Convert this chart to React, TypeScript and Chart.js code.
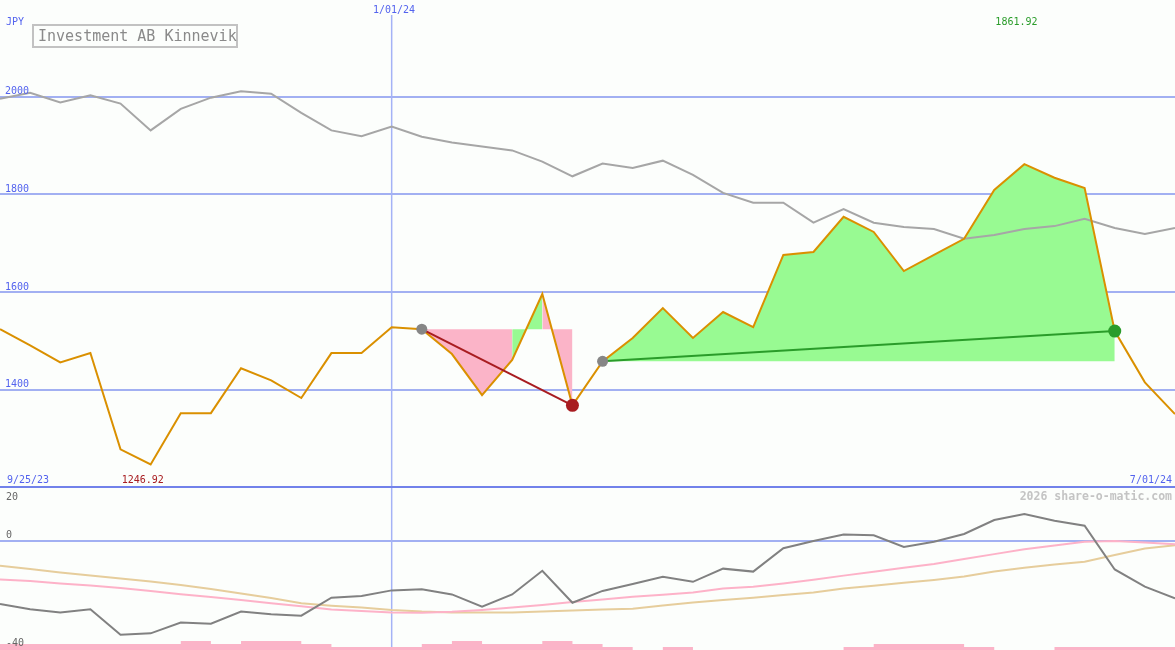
import React, { useEffect, useRef } from "react";
import { Chart, registerables } from "chart.js";

Chart.register(...registerables);

// weekly points, index 0 .. 39 (index 13 = 1/01/24, index 39 = 7/01/24)
const firstDateLabel = "9/25/23";
const midDateLabel = "1/01/24";
const lastDateLabel = "7/01/24";
const midDateIndex = 13;
const currencyLabel = "JPY";
const titleText = "Investment AB Kinnevik";
const creditText = "2026 share-o-matic.com";

const priceValues = [
  1524, 1491, 1456, 1475, 1278, 1246.92, 1352, 1352, 1444, 1419,
  1383, 1475, 1475, 1528, 1524, 1473, 1389, 1461, 1596, 1368,
  1458, 1506, 1567, 1506, 1559, 1528, 1676, 1682, 1754, 1723,
  1643, 1676, 1709, 1809, 1861.92, 1834, 1813, 1520, 1415, 1350,
];
const compareValues = [
  1996, 2008, 1988, 2003, 1986, 1931, 1975, 1998, 2011, 2006,
  1967, 1931, 1919, 1939, 1918, 1906, 1898, 1890, 1867, 1837,
  1863, 1854, 1869, 1840, 1803, 1783, 1783, 1742, 1770, 1742,
  1733, 1729, 1709, 1717, 1729, 1735, 1750, 1731, 1719, 1731,
];
const momentumValues = [
  -23.6, -25.5, -26.7, -25.5, -35.0, -34.5, -30.5, -30.9, -26.4, -27.4,
  -27.9, -21.2, -20.6, -18.5, -18.1, -20.0, -24.6, -20.0, -11.2, -23.1,
  -18.7, -16.1, -13.4, -15.3, -10.4, -11.5, -2.8, -0.1, 2.3, 2.0,
  -2.3, -0.4, 2.5, 7.7, 9.9, 7.4, 5.6, -10.7, -17.1, -21.5,
];
const fastAvgValues = [
  -14.4, -15.0, -15.9, -16.7, -17.6, -18.7, -19.9, -21.0, -22.1, -23.3,
  -24.4, -25.6, -26.2, -26.7, -26.8, -26.5, -25.8, -24.9, -23.9, -22.8,
  -21.9, -20.9, -20.1, -19.3, -17.8, -17.1, -15.9, -14.5, -13.0, -11.6,
  -10.1, -8.7, -6.8, -5.0, -3.2, -1.8, -0.4, -0.1, -0.7, -1.3,
];
const slowAvgValues = [
  -9.3, -10.5, -11.8, -13.0, -14.1, -15.2, -16.5, -18.0, -19.7, -21.3,
  -23.3, -24.2, -24.9, -25.8, -26.4, -26.7, -26.7, -26.7, -26.4, -26.0,
  -25.6, -25.3, -24.1, -23.0, -22.1, -21.2, -20.2, -19.3, -17.8, -16.8,
  -15.7, -14.6, -13.3, -11.5, -10.1, -8.9, -7.8, -5.3, -2.9, -1.7,
];
const volumeLevels = [
  2, 2, 2, 2, 2, 2, 3, 2, 3, 3,
  2, 1, 1, 1, 2, 3, 2, 2, 3, 2,
  1, 0, 1, 0, 0, 0, 0, 0, 1, 2,
  2, 2, 1, 0, 0, 1, 1, 1, 1, 1,
];
const priceTicks = [1400, 1600, 1800, 2000];
const oscTicks = [0];
const oscLabels = [20, 0, -40];
const tradeStarts = [14, 20];
const tradeEnds = [19, 37];

const BG = "#fcfefc";
const GRID = "#a2b0f2";
const BLUE_TXT = "#5363ee";
const PINK = "#fbb4c8";
const GREEN = "#98fa92";
const UP = "#2a9c2a";
const DOWN = "#a81c20";
const MONO = '"DejaVu Sans Mono", "Liberation Mono", monospace';

const W = 1175;
const TOP_H = 488;
const BOT_H = 162;

const pts = (vals: number[], from = 0, to = vals.length - 1) => {
  const out: { x: number; y: number }[] = [];
  for (let i = from; i <= to; i++) out.push({ x: i, y: vals[i] });
  return out;
};

function buildUpperDatasets() {
  const ds: any[] = [];
  tradeStarts.forEach((s, t) => {
    const e = tradeEnds[t];
    const base = priceValues[s];
    // group consecutive intervals with the same colour
    let runStart = s;
    let runGain = priceValues[s + 1] > base;
    for (let k = s + 1; k <= e; k++) {
      const gain = k < e ? priceValues[k + 1] > base : !runGain;
      if (k === e || gain !== runGain) {
        ds.push({
          data: pts(priceValues, runStart, k),
          borderWidth: 0,
          pointRadius: 0,
          backgroundColor: runGain ? GREEN : PINK,
          borderColor: "rgba(0,0,0,0)",
          fill: { value: base },
          order: 20,
        });
        runStart = k;
        runGain = gain;
      }
    }
  });
  ds.push({
    data: pts(compareValues),
    borderColor: "#a6a6a6",
    borderWidth: 2,
    pointRadius: 0,
    fill: false,
    order: 6,
  });
  ds.push({
    data: pts(priceValues),
    borderColor: "#da9000",
    borderWidth: 2,
    pointRadius: 0,
    fill: false,
    order: 5,
  });
  tradeStarts.forEach((s, t) => {
    const e = tradeEnds[t];
    const gain = priceValues[e] > priceValues[s];
    ds.push({
      data: [
        { x: s, y: priceValues[s] },
        { x: e, y: priceValues[e] },
      ],
      borderColor: gain ? UP : DOWN,
      borderWidth: 2,
      pointRadius: 0,
      fill: false,
      order: 3,
    });
    ds.push({
      data: [
        { x: s, y: priceValues[s] },
        { x: e, y: priceValues[e] },
      ],
      showLine: false,
      pointRadius: [5.5, 6.5],
      pointBorderWidth: 0,
      pointBackgroundColor: ["#868686", gain ? UP : DOWN],
      pointBorderColor: "rgba(0,0,0,0)",
      fill: false,
      order: 1,
    });
  });
  return ds;
}

const upperDecor = {
  id: "upperDecor",
  beforeDatasetsDraw(chart: any) {
    const { ctx, chartArea, scales } = chart;
    const px = scales.x.getPixelForValue(midDateIndex);
    ctx.save();
    ctx.strokeStyle = "#a4b2f6";
    ctx.lineWidth = 1.5;
    ctx.beginPath();
    ctx.moveTo(px, 15);
    ctx.lineTo(px, chartArea.bottom);
    ctx.stroke();
    ctx.restore();
  },
  afterDraw(chart: any) {
    const { ctx, scales } = chart;
    const x = scales.x;
    const y = scales.y;
    ctx.save();
    // separator
    ctx.fillStyle = "#7282ea";
    ctx.fillRect(0, 486, W, 2);
    ctx.textBaseline = "alphabetic";
    ctx.font = `10px ${MONO}`;
    ctx.fillStyle = BLUE_TXT;
    ctx.textAlign = "left";
    ctx.fillText(currencyLabel, 6, 25);
    priceTicks.forEach((v) => {
      ctx.fillText(String(v), 5, y.getPixelForValue(v) - 2.5);
    });
    ctx.fillText(midDateLabel, 373, 13);
    ctx.fillText(firstDateLabel, 7, 483);
    ctx.textAlign = "right";
    ctx.fillText(lastDateLabel, 1172, 483);
    // min / max labels
    let minI = 0;
    let maxI = 0;
    priceValues.forEach((v, i) => {
      if (v < priceValues[minI]) minI = i;
      if (v > priceValues[maxI]) maxI = i;
    });
    ctx.textAlign = "left";
    ctx.fillStyle = DOWN;
    ctx.fillText(priceValues[minI].toFixed(2), x.getPixelForValue(minI) - 29, 483);
    ctx.fillStyle = UP;
    ctx.fillText(priceValues[maxI].toFixed(2), x.getPixelForValue(maxI) - 29, 25);
    // title box
    ctx.fillStyle = BG;
    ctx.fillRect(33, 25, 204, 22);
    ctx.strokeStyle = "#c2c2c2";
    ctx.lineWidth = 2;
    ctx.strokeRect(33, 25, 204, 22);
    ctx.fillStyle = "#8a8a8a";
    ctx.font = `15px ${MONO}`;
    ctx.fillText(titleText, 38, 41);
    ctx.restore();
  },
};

const lowerDecor = {
  id: "lowerDecor",
  beforeDatasetsDraw(chart: any) {
    const { ctx, chartArea, scales } = chart;
    const px = scales.x.getPixelForValue(midDateIndex);
    ctx.save();
    ctx.strokeStyle = "#a4b2f6";
    ctx.lineWidth = 1.5;
    ctx.beginPath();
    ctx.moveTo(px, 0);
    ctx.lineTo(px, chartArea.bottom);
    ctx.stroke();
    ctx.restore();
  },
  afterDraw(chart: any) {
    const { ctx, scales } = chart;
    const y = scales.y;
    ctx.save();
    ctx.font = `10px ${MONO}`;
    ctx.fillStyle = "#666666";
    ctx.textAlign = "left";
    oscLabels.forEach((v) => {
      let py = y.getPixelForValue(v) - 2.5;
      if (py < 12) py = 12;
      if (py > 158) py = 158;
      ctx.fillText(String(v), 6, py);
    });
    ctx.fillStyle = "#c4c4c4";
    ctx.font = `bold 11.5px ${MONO}`;
    ctx.textAlign = "right";
    ctx.fillText(creditText, 1172, 12);
    ctx.restore();
  },
};

export default function App() {
  const topRef = useRef<HTMLCanvasElement>(null);
  const botRef = useRef<HTMLCanvasElement>(null);

  useEffect(() => {
    document.body.style.margin = "0";
    document.body.style.background = BG;
    const top = new Chart(topRef.current as HTMLCanvasElement, {
      type: "line",
      data: { datasets: buildUpperDatasets() },
      options: {
        responsive: false,
        animation: false,
        events: [],
        layout: { padding: 0, autoPadding: false },
        plugins: { legend: { display: false }, tooltip: { enabled: false } },
        elements: { line: { tension: 0 } },
        scales: {
          x: { type: "linear", min: 0, max: 39, display: false },
          y: {
            type: "linear",
            min: 1198.7,
            max: 2198,
            afterBuildTicks: (axis: any) => {
              axis.ticks = priceTicks.map((v) => ({ value: v }));
            },
            ticks: { display: false },
            border: { display: false },
            grid: { color: GRID, lineWidth: 2, drawTicks: false },
          },
        },
      } as any,
      plugins: [upperDecor],
    });

    const bot = new Chart(botRef.current as HTMLCanvasElement, {
      type: "line",
      data: {
        datasets: [
          {
            data: pts(momentumValues),
            borderColor: "#818181",
            borderWidth: 2,
            pointRadius: 0,
            fill: false,
            order: 1,
          },
          {
            data: pts(fastAvgValues),
            borderColor: "#fdb2c8",
            borderWidth: 2,
            pointRadius: 0,
            fill: false,
            order: 2,
          },
          {
            data: pts(slowAvgValues),
            borderColor: "#e6cd9c",
            borderWidth: 2,
            pointRadius: 0,
            fill: false,
            order: 3,
          },
          {
            data: pts(volumeLevels),
            yAxisID: "y2",
            stepped: "before",
            borderWidth: 0,
            borderColor: "rgba(0,0,0,0)",
            backgroundColor: PINK,
            pointRadius: 0,
            fill: "origin",
            order: 10,
          },
        ],
      },
      options: {
        responsive: false,
        animation: false,
        events: [],
        layout: { padding: 0, autoPadding: false },
        plugins: { legend: { display: false }, tooltip: { enabled: false } },
        elements: { line: { tension: 0 } },
        scales: {
          x: { type: "linear", min: 0, max: 39, display: false },
          y: {
            type: "linear",
            min: -40.7,
            max: 19.63,
            afterBuildTicks: (axis: any) => {
              axis.ticks = oscTicks.map((v) => ({ value: v }));
            },
            ticks: { display: false },
            border: { display: false },
            grid: { color: GRID, lineWidth: 2, drawTicks: false },
          },
          y2: { type: "linear", min: 0, max: 54, display: false },
        },
      } as any,
      plugins: [lowerDecor],
    });

    return () => {
      top.destroy();
      bot.destroy();
    };
  }, []);

  return (
    <div style={{ position: "relative", width: W, height: TOP_H + BOT_H, background: BG }}>
      <canvas
        ref={topRef}
        width={W}
        height={TOP_H}
        style={{ position: "absolute", left: 0, top: 0, width: W, height: TOP_H }}
      />
      <canvas
        ref={botRef}
        width={W}
        height={BOT_H}
        style={{ position: "absolute", left: 0, top: TOP_H, width: W, height: BOT_H }}
      />
    </div>
  );
}
